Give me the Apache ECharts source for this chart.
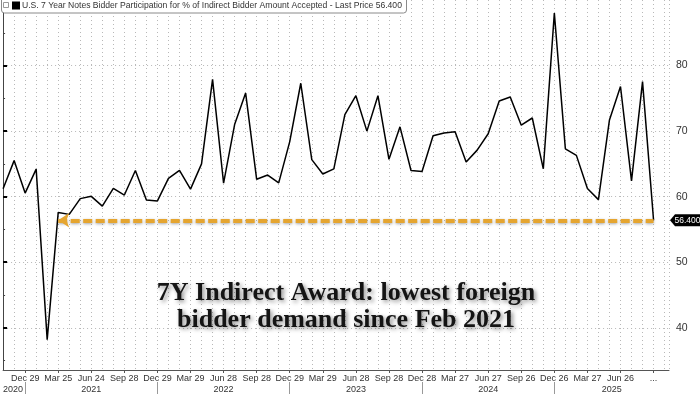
<!DOCTYPE html>
<html><head><meta charset="utf-8">
<script src="https://cdn.jsdelivr.net/npm/echarts@6/dist/echarts.min.js"></script>
<style>html,body{margin:0;padding:0;background:#fff;overflow:hidden}#c{width:700px;height:394px}</style>
</head><body><div id="c"></div>
<script>
// Monthly 7-year note auctions (Oct 2020 .. Sep 2025)
const auctionMonths = [
  "2020-10","2020-11","2020-12","2021-01","2021-02","2021-03","2021-04","2021-05","2021-06","2021-07","2021-08","2021-09",
  "2021-10","2021-11","2021-12","2022-01","2022-02","2022-03","2022-04","2022-05","2022-06","2022-07","2022-08","2022-09",
  "2022-10","2022-11","2022-12","2023-01","2023-02","2023-03","2023-04","2023-05","2023-06","2023-07","2023-08","2023-09",
  "2023-10","2023-11","2023-12","2024-01","2024-02","2024-03","2024-04","2024-05","2024-06","2024-07","2024-08","2024-09",
  "2024-10","2024-11","2024-12","2025-01","2025-02","2025-03","2025-04","2025-05","2025-06","2025-07","2025-08","2025-09"
];
// % of indirect bidder amount accepted
const indirectPct = [
  61.2, 65.5, 60.55, 64.2, 38.2, 57.6, 57.3, 59.7, 60.05, 58.55, 61.25, 60.25,
  64.0, 59.5, 59.35, 62.8, 64.0, 61.15, 65.0, 77.9, 62.05, 71.0, 75.8, 62.65,
  63.3, 62.1, 68.4, 77.3, 65.65, 63.45, 64.25, 72.5, 75.4, 70.0, 75.4, 65.7,
  70.65, 64.0, 63.85, 69.3, 69.7, 69.9, 65.3, 67.1, 69.6, 74.6, 75.2, 70.9,
  72.0, 64.25, 88.0, 67.3, 66.3, 61.25, 59.55, 71.7, 76.8, 62.4, 77.55, 56.4
];
// x-axis tick labels (auction dates) and their positions in auctionMonths
const quarterTickIdx = [2,5,8,11,14,17,20,23,26,29,32,35,38,41,44,47,50,53,56,59];
const quarterTickLabels = ["Dec 29","Mar 25","Jun 24","Sep 28","Dec 29","Mar 29","Jun 28","Sep 28","Dec 29","Mar 29",
  "Jun 28","Sep 28","Dec 28","Mar 27","Jun 27","Sep 26","Dec 26","Mar 27","Jun 26","..."];
const yearLabels = ["2020","2021","2022","2023","2024","2025"];
const yearLabelPos = [0.9, 8, 20, 32, 44, 55.2];
const yearBoundaryIdx = [2,14,26,38,50];
const yTickValues = [40,50,60,70,80];
const yMinorTickValues = [35,45,55,65,75,85];
const arrowStartIdx = 5;

const lastVal = indirectPct[indirectPct.length - 1];
const lastIdx = indirectPct.length - 1;
const X_MAX = 60.4;
const Y_MIN = 33.56, Y_MAX = 90;
const gridLine = {show:true, lineStyle:{color:'#b8b8b8', type:[1,3], width:1}};
const FONT = '"Liberation Sans", Arial, sans-serif';

const chart = echarts.init(document.getElementById('c'), null, {renderer:'canvas'});
chart.setOption({
  animation:false,
  backgroundColor:'#fff',
  grid:{left:0, right:31, top:-4.75, bottom:22, containLabel:false},
  xAxis:[{
    // monthly vertical grid only
    type:'value', min:0, max:X_MAX, interval:1, position:'bottom',
    axisLine:{show:false}, axisTick:{show:false}, axisLabel:{show:false},
    splitLine:gridLine
  },{
    type:'value', min:0, max:X_MAX, position:'bottom',
    axisLine:{show:true, lineStyle:{color:'#555', width:1}},
    axisTick:{show:true, customValues:quarterTickIdx, length:3, lineStyle:{color:'#555'}},
    axisLabel:{show:true, customValues:quarterTickIdx, margin:4, fontSize:9, fontFamily:FONT, color:'#333',
      formatter:v => quarterTickLabels[quarterTickIdx.indexOf(Math.round(v))] || ''},
    splitLine:{show:false}
  },{
    type:'value', min:0, max:X_MAX, position:'bottom', offset:12,
    axisLine:{show:false},
    axisTick:{show:true, customValues:yearBoundaryIdx, length:12, lineStyle:{color:'#999'}},
    axisLabel:{show:true, customValues:yearLabelPos, margin:3, fontSize:9, fontFamily:FONT, color:'#333',
      formatter:v => yearLabels[yearLabelPos.indexOf(v)] || ''},
    splitLine:{show:false}
  }],
  yAxis:[{
    type:'value', min:Y_MIN, max:Y_MAX, position:'right',
    axisLine:{show:true, lineStyle:{color:'#444', width:1}},
    axisTick:{show:true, customValues:yTickValues, length:4, lineStyle:{color:'#000', width:2}},
    axisLabel:{show:true, customValues:yTickValues, margin:7, fontSize:10.5, fontFamily:FONT, color:'#333'},
    splitLine:gridLine
  },{
    type:'value', min:Y_MIN, max:Y_MAX, position:'right',
    axisLine:{show:false},
    axisTick:{show:true, customValues:yMinorTickValues, length:2, lineStyle:{color:'#444', width:1}},
    axisLabel:{show:false}, splitLine:{show:false}
  }],
  series:[{
    type:'line',
    xAxisIndex:0, yAxisIndex:0,
    data:indirectPct.map((v,i)=>[i,v]),
    showSymbol:false, symbol:'none',
    lineStyle:{color:'#000', width:1.5},
    z:3,
    markLine:{
      silent:true, symbol:['arrow','none'], symbolSize:[11,11],
      label:{show:false},
      lineStyle:{color:'#E5A530', width:4, type:[9,3.5], shadowBlur:3, shadowColor:'rgba(0,0,0,0.35)', shadowOffsetY:1},
      data:[[{coord:[arrowStartIdx, lastVal]}, {coord:[lastIdx, lastVal]}]]
    },
    markPoint:{
      silent:true,
      symbol:'path://M0,6L5,0H32V12H5Z', symbolSize:[32,12], symbolKeepAspect:false, symbolOffset:[17,0],
      itemStyle:{color:'#000'},
      label:{show:true, position:'inside', offset:[1.5,0], color:'#fff', fontSize:8.5, fontFamily:FONT,
        formatter:()=>lastVal.toFixed(3)},
      data:[{coord:[X_MAX, lastVal]}]
    }
  }],
  graphic:[
    {type:'rect', z:100, shape:{x:1.5, y:-4, width:405, height:17, r:3}, style:{fill:'#fff', stroke:'#8a8a8a', lineWidth:1}},
    {type:'rect', z:101, shape:{x:3.5, y:2.5, width:5, height:5}, style:{fill:'#fff', stroke:'#999', lineWidth:1}},
    {type:'rect', z:101, shape:{x:12, y:1.5, width:8, height:8}, style:{fill:'#000'}},
    {type:'text', z:101, x:22, y:6, style:{
      text:'U.S. 7 Year Notes Bidder Participation for % of Indirect Bidder Amount Accepted - Last Price ' + lastVal.toFixed(3),
      font:'8.6px ' + FONT, fill:'#333', textVerticalAlign:'middle'}},
    {type:'text', z:110, x:346, y:293, style:{
      text:'7Y Indirect Award: lowest foreign', font:'bold 26px "Liberation Serif", "Times New Roman", serif',
      fill:'#141414', textAlign:'center', textVerticalAlign:'middle',
      textShadowColor:'rgba(0,0,0,0.45)', textShadowBlur:4, textShadowOffsetX:2, textShadowOffsetY:2}},
    {type:'text', z:110, x:346, y:320, style:{
      text:'bidder demand since Feb 2021', font:'bold 26px "Liberation Serif", "Times New Roman", serif',
      fill:'#141414', textAlign:'center', textVerticalAlign:'middle',
      textShadowColor:'rgba(0,0,0,0.45)', textShadowBlur:4, textShadowOffsetX:2, textShadowOffsetY:2}}
  ]
});
</script></body></html>
